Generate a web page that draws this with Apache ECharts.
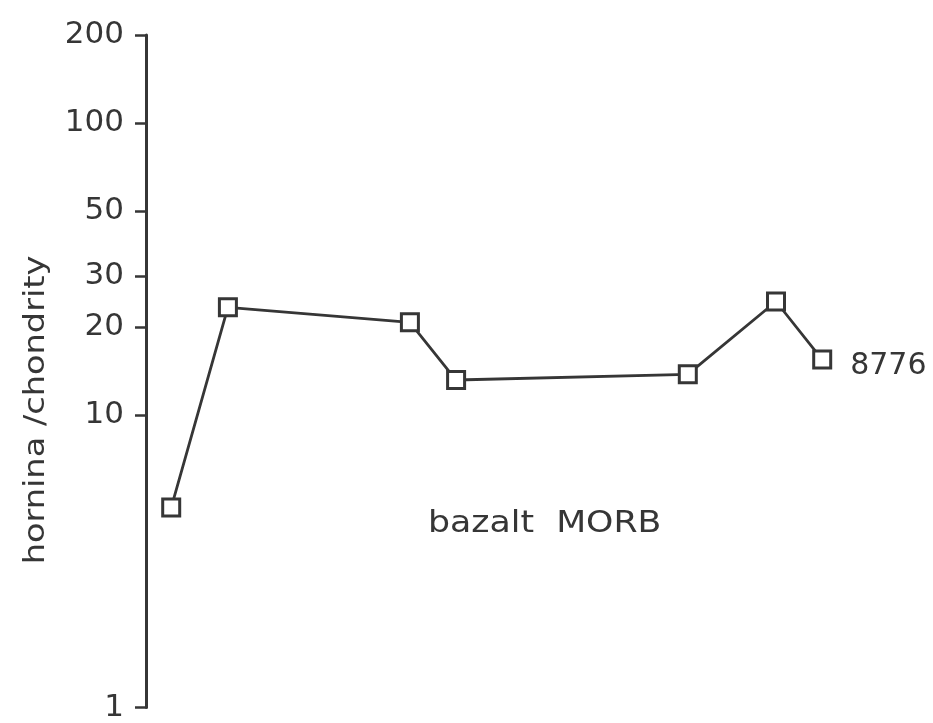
<!DOCTYPE html>
<html>
<head>
<meta charset="utf-8">
<script src="https://cdn.jsdelivr.net/npm/echarts@6/dist/echarts.min.js"></script>
<style>
  html, body { margin: 0; padding: 0; background: #fff; }
  #chart { width: 933px; height: 723px; }
</style>
</head>
<body>
<div id="chart"></div>
<script>
// Horizontal positions of the plotted elements (arbitrary units along the hidden x axis)
const xPos = [3.6, 11.7, 37.7, 44.3, 77.4, 90.0, 96.6];
// Rock / chondrite normalised values
const ratio = [4.83, 23.4, 20.8, 13.2, 13.8, 24.5, 15.5];
// Tick values on the logarithmic y axis
const yTicks = [1, 10, 20, 30, 50, 100, 200];
const sampleName = '8776';
const yAxisTitle = 'hornina /chondrity';
const rockNote = 'bazalt  MORB';

const ink = '#363636';
const font = 'DejaVu Sans';

const points = xPos.map((x, i) => {
  const item = { value: [x, ratio[i]] };
  if (i === xPos.length - 1) {
    item.label = {
      show: true,
      position: 'right',
      distance: 18,
      offset: [0, 7],
      formatter: sampleName,
      color: ink,
      fontFamily: font,
      fontSize: 30
    };
  }
  return item;
});

const chart = echarts.init(document.getElementById('chart'), null, { renderer: 'canvas' });
chart.setOption({
  animation: false,
  backgroundColor: '#fff',
  grid: { left: 146, right: 87, top: 35, bottom: 12, containLabel: false },
  xAxis: {
    type: 'value', min: 0, max: 100, show: false
  },
  yAxis: {
    type: 'log',
    logBase: 10,
    min: 1,
    max: 200,
    axisLine: { show: true, lineStyle: { color: ink, width: 3 } },
    axisTick: {
      show: true, length: 11, inside: false,
      lineStyle: { color: ink, width: 2.5 },
      customValues: yTicks
    },
    axisLabel: {
      show: true, margin: 22, color: ink, fontFamily: font, fontSize: 31,
      customValues: yTicks,
      formatter: v => String(v)
    },
    splitLine: { show: false },
    minorTick: { show: false }
  },
  graphic: [
    {
      // y axis title, written bottom-to-top
      type: 'text',
      x: 37,
      y: 410,
      rotation: Math.PI / 2,
      scaleX: 1.2,
      style: {
        text: yAxisTitle,
        fill: ink,
        font: '28px "DejaVu Sans"',
        align: 'center',
        verticalAlign: 'middle'
      }
    },
    {
      // rock type note inside the plot
      type: 'text',
      x: 428,
      y: 524,
      scaleX: 1.12,
      style: {
        text: rockNote,
        fill: ink,
        font: '31px "DejaVu Sans"',
        align: 'left',
        verticalAlign: 'middle'
      }
    }
  ],
  series: [{
    type: 'line',
    data: points,
    symbol: 'rect',
    symbolSize: 17,
    showAllSymbol: true,
    lineStyle: { color: ink, width: 2.8 },
    itemStyle: { color: '#fff', borderColor: ink, borderWidth: 3 },
    z: 3
  }]
});
</script>
</body>
</html>
